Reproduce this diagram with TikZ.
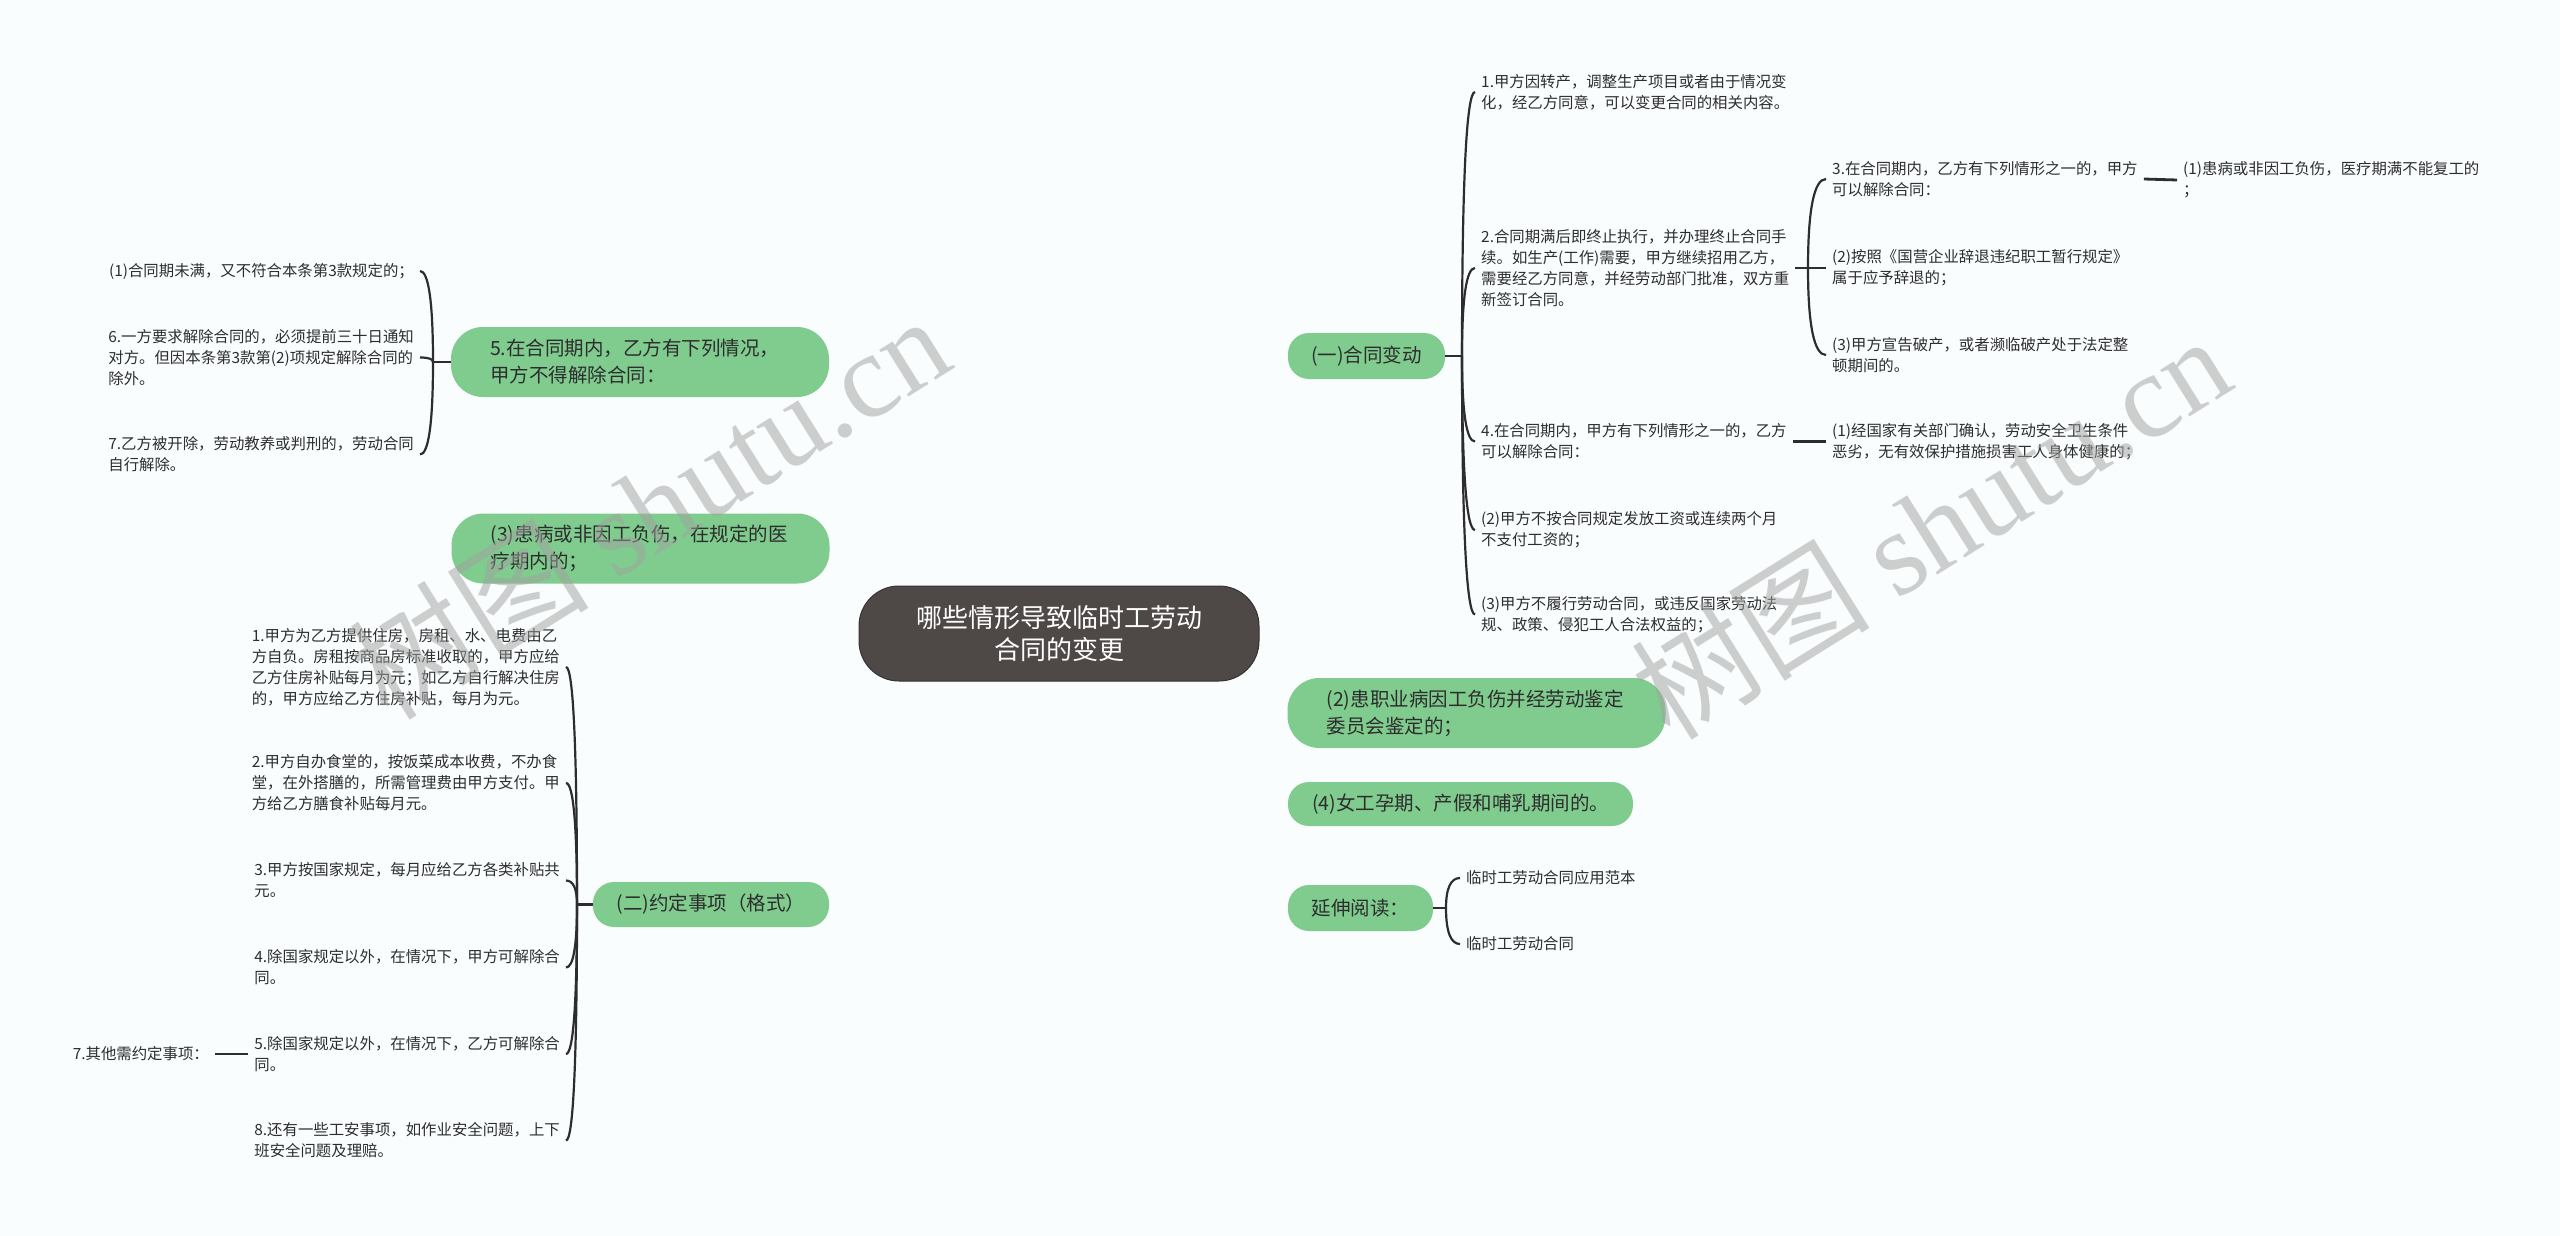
\documentclass[tikz,border=0pt]{standalone}
\usepackage{fontspec}
\setmainfont{Noto Sans CJK SC}
\newfontfamily\wmserif{Liberation Serif}
\usetikzlibrary{calc}
\definecolor{bgc}{RGB}{250,253,254}
\definecolor{gfill}{RGB}{128,203,142}
\definecolor{rootfill}{RGB}{78,72,71}
\definecolor{linec}{RGB}{45,45,45}
\definecolor{txtc}{RGB}{45,45,45}
\definecolor{wmc}{RGB}{160,160,160}
\pgfdeclarelayer{bg}
\pgfsetlayers{bg,main}
\newcommand{\brcurve}[2]{\draw[conn] (#1) .. controls ($(#1)!0.66!(#1 |- #2)$) and ($(#2)!0.66!(#1 |- #2)$) .. (#2);}
\newcommand{\rootcurve}[1]{\draw[conn] (root.center) .. controls ($(root.center)!0.66!(root.center |- #1)$) and ($(#1)!0.66!(root.center |- #1)$) .. (#1);}
\begin{document}
\begin{tikzpicture}[x=1pt,y=-1pt,
  rootnode/.style={fill=rootfill, draw=rootfill!70!black, line width=1pt, rounded corners=40pt, minimum width=400pt, minimum height=95pt, text=white, font=\fontsize{26}{32}\selectfont, align=center, inner sep=0pt},
  gnode/.style={fill=gfill, rounded corners=21pt, text=txtc, font=\fontsize{19.5}{27}\selectfont, inner sep=0pt, align=left},
  gtall/.style={gnode, rounded corners=32pt, text width=300pt, minimum width=378pt, minimum height=70pt},
  leaf/.style={text=txtc, font=\fontsize{15.4}{21}\selectfont, align=left, inner xsep=6pt, inner ysep=0pt},
  conn/.style={draw=linec, line width=2.2pt},
  stub/.style={draw=linec, line width=2.8pt},
  wm/.style={rotate=32, text=wmc, opacity=0.5, font=\fontsize{120}{120}\selectfont, inner sep=0pt}]
\useasboundingbox (0,0) rectangle (2560,1236);
\fill[bgc] (0,0) rectangle (2560,1236);

% root
\node[rootnode] (root) at (1059,633.5) {哪些情形导致临时工劳动\\合同的变更};

% main branches
\node[gnode, minimum width=157pt, minimum height=46pt, align=center] (n1) at (1366.5,356) {(一)合同变动};
\node[gtall] (n5) at (640,362) {5.在合同期内，乙方有下列情况，\\甲方不得解除合同：};
\node[gtall] (n3) at (640.5,548.5) {(3)患病或非因工负伤，在规定的医\\疗期内的；};
\node[gtall] (n2) at (1476.5,713) {(2)患职业病因工负伤并经劳动鉴定\\委员会鉴定的；};
\node[gnode, minimum width=345pt, minimum height=44pt, align=center] (n4) at (1460.5,804) {(4)女工孕期、产假和哺乳期间的。};
\node[gnode, minimum width=145pt, minimum height=46pt, align=center] (n6) at (1360.5,908) {延伸阅读：};
\node[gnode, minimum width=236pt, minimum height=45pt, align=center] (n7) at (711,904.5) {(二)约定事项（格式）};

% right level 1
\node[leaf, anchor=west] (r1) at (1475,92) {1.甲方因转产，调整生产项目或者由于情况变\\化，经乙方同意，可以变更合同的相关内容。};
\node[leaf, anchor=west] (r2) at (1475,268) {2.合同期满后即终止执行，并办理终止合同手\\续。如生产(工作)需要，甲方继续招用乙方，\\需要经乙方同意，并经劳动部门批准，双方重\\新签订合同。};
\node[leaf, anchor=west] (r4) at (1475,441.5) {4.在合同期内，甲方有下列情形之一的，乙方\\可以解除合同：};
\node[leaf, anchor=west] (r5) at (1475,530) {(2)甲方不按合同规定发放工资或连续两个月\\不支付工资的；};
\node[leaf, anchor=west] (r6) at (1475,614.5) {(3)甲方不履行劳动合同，或违反国家劳动法\\规、政策、侵犯工人合法权益的；};

% right level 2
\node[leaf, anchor=west] (s1) at (1826,179) {3.在合同期内，乙方有下列情形之一的，甲方\\可以解除合同：};
\node[leaf, anchor=west] (s2) at (1826,268) {(2)按照《国营企业辞退违纪职工暂行规定》\\属于应予辞退的；};
\node[leaf, anchor=west] (s3) at (1826,355) {(3)甲方宣告破产，或者濒临破产处于法定整\\顿期间的。};

% right level 3
\node[leaf, anchor=west] (t1) at (2177,180) {(1)患病或非因工负伤，医疗期满不能复工的\\；};
\node[leaf, anchor=west] (t2) at (1826,441.5) {(1)经国家有关部门确认，劳动安全卫生条件\\恶劣，无有效保护措施损害工人身体健康的；};

% extended reading
\node[leaf, anchor=west] (x1) at (1460,878) {临时工劳动合同应用范本};
\node[leaf, anchor=west] (x2) at (1460,944) {临时工劳动合同};

% left: n5 children
\node[leaf, anchor=east] (c1) at (420,271) {(1)合同期未满，又不符合本条第3款规定的；};
\node[leaf, anchor=east] (c2) at (420,357.5) {6.一方要求解除合同的，必须提前三十日通知\\对方。但因本条第3款第(2)项规定解除合同的\\除外。};
\node[leaf, anchor=east] (c3) at (420,454.5) {7.乙方被开除，劳动教养或判刑的，劳动合同\\自行解除。};

% left: n7 children
\node[leaf, anchor=east] (d1) at (566,667) {1.甲方为乙方提供住房，房租、水、电费由乙\\方自负。房租按商品房标准收取的，甲方应给\\乙方住房补贴每月为元；如乙方自行解决住房\\的，甲方应给乙方住房补贴，每月为元。};
\node[leaf, anchor=east] (d2) at (566,783) {2.甲方自办食堂的，按饭菜成本收费，不办食\\堂，在外搭膳的，所需管理费由甲方支付。甲\\方给乙方膳食补贴每月元。};
\node[leaf, anchor=east] (d3) at (566,880.5) {3.甲方按国家规定，每月应给乙方各类补贴共\\元。};
\node[leaf, anchor=east] (d4) at (566,967.5) {4.除国家规定以外，在情况下，甲方可解除合\\同。};
\node[leaf, anchor=east] (d5) at (566,1054) {5.除国家规定以外，在情况下，乙方可解除合\\同。};
\node[leaf, anchor=east] (d8) at (566,1140.5) {8.还有一些工安事项，如作业安全问题，上下\\班安全问题及理赔。};
\node[leaf, anchor=east] (e1) at (215,1054) {7.其他需约定事项：};

% junctions
\coordinate (jA) at (1462,356);
\coordinate (jB) at (1808,268);
\coordinate (jC) at (1446,908);
\coordinate (jD) at (433,362);
\coordinate (jE) at (577,904.5);

\begin{pgfonlayer}{bg}
  \rootcurve{n1.west}
  \rootcurve{n2.west}
  \rootcurve{n4.west}
  \rootcurve{n6.west}
  \rootcurve{n5.east}
  \rootcurve{n3.east}
  \rootcurve{n7.east}
\end{pgfonlayer}

% stubs
\draw[stub] (n1.east) -- (jA);
\draw[stub] (r2.east) -- (jB);
\draw[stub] (n6.east) -- (jC);
\draw[stub] (n5.west) -- (jD);
\draw[stub] (n7.west) -- (jE);
\draw[stub] (s1.east) -- (t1.west);
\draw[stub] (r4.east) -- (t2.west);
\draw[stub] (d5.west) -- (e1.east);

% braces
\brcurve{jA}{r1.west}
\brcurve{jA}{r2.west}
\brcurve{jA}{r4.west}
\brcurve{jA}{r5.west}
\brcurve{jA}{r6.west}
\brcurve{jB}{s1.west}
\brcurve{jB}{s2.west}
\brcurve{jB}{s3.west}
\brcurve{jC}{x1.west}
\brcurve{jC}{x2.west}
\brcurve{jD}{c1.east}
\brcurve{jD}{c2.east}
\brcurve{jD}{c3.east}
\brcurve{jE}{d1.east}
\brcurve{jE}{d2.east}
\brcurve{jE}{d3.east}
\brcurve{jE}{d4.east}
\brcurve{jE}{d5.east}
\brcurve{jE}{d8.east}

% watermark
\node[wm] (wm1) at (649,506) {树图 {\wmserif shutu.cn}};
\node[wm] (wm2) at (1930,526) {树图 {\wmserif shutu.cn}};
\end{tikzpicture}
\end{document}
